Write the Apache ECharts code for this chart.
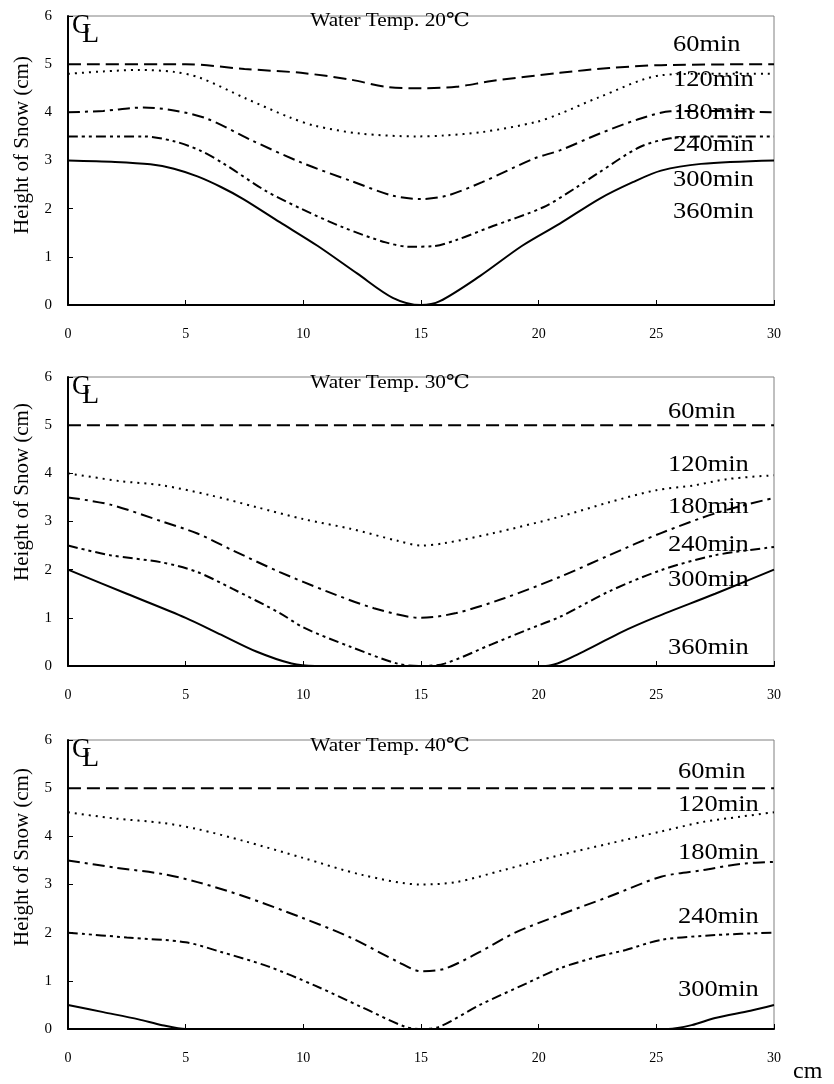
<!DOCTYPE html>
<html>
<head>
<meta charset="utf-8">
<script src="https://cdn.jsdelivr.net/npm/echarts@6/dist/echarts.min.js"></script>
<style>
html,body{margin:0;padding:0;background:#fff;}
#chart{width:834px;height:1084px;}
</style>
</head>
<body>
<div id="chart"></div>
<script>
// ---- Data (x = distance from centre line in cm, y = snow height in cm) ----
var titles = ['Water Temp. 20\u2103', 'Water Temp. 30\u2103', 'Water Temp. 40\u2103'];
var seriesNames = ['60min', '120min', '180min', '240min', '300min', '360min'];
var xTicks = [0, 5, 10, 15, 20, 25, 30];
var yTicks = [0, 1, 2, 3, 4, 5, 6];

// 20 C
var t20_60  = [[0,5.0],[5,5.0],[7.5,4.9],[9.9,4.82],[12,4.68],[13.5,4.53],[15,4.5],[16.5,4.53],[18,4.65],[20.9,4.82],[23,4.92],[25.2,4.98],[30,5.0]];
var t20_120 = [[0,4.8],[1.5,4.85],[3,4.88],[4.5,4.84],[5.6,4.72],[7.5,4.3],[9.4,3.9],[10.5,3.72],[12.4,3.56],[14.8,3.5],[16,3.52],[17.6,3.59],[19.9,3.8],[20.9,3.97],[22.5,4.3],[25.2,4.77],[27,4.8],[30,4.8]];
var t20_180 = [[0,4.0],[1.5,4.03],[3.2,4.1],[4.5,4.04],[5.9,3.87],[7.8,3.42],[9.9,2.96],[12,2.58],[13.8,2.27],[15,2.2],[16.1,2.27],[17.6,2.55],[19.8,3.04],[20.9,3.21],[22.6,3.56],[24.2,3.85],[25.6,4.02],[27,4.03],[30,4.0]];
var t20_240 = [[0,3.5],[3.2,3.5],[4.5,3.4],[5.6,3.21],[6.6,2.94],[8.4,2.37],[9.9,2.0],[11.7,1.61],[13.5,1.3],[14.5,1.21],[15.5,1.22],[16.5,1.35],[17.9,1.61],[20.2,2.03],[21.6,2.44],[22.5,2.73],[24.3,3.28],[25.6,3.46],[27,3.5],[30,3.5]];
var t20_300 = [[0,3.0],[2,2.97],[3.5,2.92],[4.5,2.83],[5.5,2.67],[6.5,2.45],[7.45,2.2],[9,1.72],[10.6,1.23],[12.3,0.65],[13.8,0.15],[15,0.0],[15.8,0.08],[17.5,0.6],[19.3,1.23],[20.9,1.69],[22.6,2.21],[24,2.55],[25.2,2.79],[26.9,2.93],[30,3.0]];

// 30 C
var t30_60  = [[0,5.0],[30,5.0]];
var t30_120 = [[0,4.0],[2.2,3.84],[4,3.75],[6,3.55],[8,3.3],[10,3.05],[12,2.85],[14,2.6],[15,2.5],[16,2.55],[18,2.75],[20.9,3.1],[23,3.4],[25,3.65],[26.6,3.75],[28,3.88],[30,3.96]];
var t30_180 = [[0,3.5],[1.8,3.35],[4,3.0],[5.5,2.75],[7,2.4],[9,1.95],[11,1.55],[13,1.2],[15,1.0],[16.5,1.1],[18.5,1.4],[20.9,1.85],[23,2.3],[25.2,2.76],[27.7,3.2],[30,3.49]];
var t30_240 = [[0,2.5],[1.8,2.3],[4,2.15],[5.5,1.95],[7,1.6],[9,1.1],[10,0.8],[12,0.4],[14,0.05],[15,0.0],[16,0.05],[18,0.45],[19.5,0.75],[20.9,1.02],[23,1.55],[25.2,1.99],[27.5,2.3],[30,2.47]];
var t30_300 = [[0,2.0],[2.5,1.5],[5,1.0],[6.5,0.65],[8,0.3],[9.5,0.05],[10.5,0.0],[20.3,0.0],[21.9,0.3],[23.5,0.7],[25,1.02],[27.5,1.5],[30,2.0]];

// 40 C
var t40_60  = [[0,5.0],[30,5.0]];
var t40_120 = [[0,4.5],[2,4.37],[4,4.28],[5.5,4.15],[7.5,3.9],[10,3.55],[12.5,3.2],[15,3.0],[16.5,3.05],[18.5,3.3],[20.9,3.61],[23,3.85],[25.2,4.1],[27,4.3],[28.6,4.41],[30,4.5]];
var t40_180 = [[0,3.5],[2,3.35],[4,3.22],[5.5,3.05],[7.5,2.75],[10,2.3],[12,1.9],[14,1.4],[15,1.2],[16,1.25],[17.5,1.6],[19,2.0],[20.9,2.37],[23,2.75],[25.2,3.16],[27,3.3],[28.6,3.43],[30,3.47]];
var t40_240 = [[0,2.0],[2.5,1.9],[5,1.8],[6.5,1.6],[8.5,1.3],[10.5,0.9],[12.5,0.45],[14.3,0.05],[15,0.0],[15.8,0.05],[17.5,0.5],[19.5,0.95],[20.9,1.26],[22.5,1.5],[23.7,1.64],[25.2,1.85],[27.5,1.95],[30,2.0]];
var t40_300 = [[0,0.5],[1.5,0.35],[3,0.2],[4,0.08],[5,0.0],[25.5,0.0],[26.5,0.08],[27.5,0.23],[29,0.38],[30,0.5]];

var panels = [
  [t20_60, t20_120, t20_180, t20_240, t20_300],
  [t30_60, t30_120, t30_180, t30_240, t30_300],
  [t40_60, t40_120, t40_180, t40_240, t40_300]
];
// which labels appear in each panel
var panelLabels = [
  ['60min','120min','180min','240min','300min','360min'],
  ['60min','120min','180min','240min','300min','360min'],
  ['60min','120min','180min','240min','300min']
];

// ---- Layout / style ----
var gridLeft = 68, gridWidth = 706;
var gridTops = [16, 377, 740];
var gridHeight = 289;
var dashStyles = [[13,6],[2,5],[12,5,3,5],[10,4,3,4,3,4],'solid'];
var serif = '"Liberation Serif","DejaVu Serif",serif';

// label pixel y positions (centres) per panel
var labelY = [
  [45, 80, 113, 145, 180, 212],
  [412, 465, 507, 545, 580, 648],
  [772, 805, 853, 917, 990]
];
var labelX = [673, 668, 678];
var titleY = [21, 383, 746];
var nameY = [145, 492, 857];

var grids = [], xAxes = [], yAxes = [], series = [], graphics = [];
for (var p = 0; p < 3; p++) {
  grids.push({left: gridLeft, top: gridTops[p], width: gridWidth, height: gridHeight,
    containLabel: false, show: true, borderColor: '#808080', borderWidth: 1, backgroundColor: 'transparent'});
  xAxes.push({type: 'value', gridIndex: p, min: xTicks[0], max: xTicks[xTicks.length-1], interval: 5,
    axisLine: {show: true, onZero: false, lineStyle: {color: '#000', width: 2}},
    axisTick: {show: true, inside: true, length: 5, lineStyle: {color: '#000', width: 1}},
    axisLabel: {show: true, margin: 22, color: '#000', fontFamily: serif, fontSize: 14},
    splitLine: {show: false}});
  yAxes.push({type: 'value', gridIndex: p, min: yTicks[0], max: yTicks[yTicks.length-1], interval: 1,
    axisLine: {show: true, lineStyle: {color: '#000', width: 2}},
    axisTick: {show: true, inside: true, length: 5, lineStyle: {color: '#000', width: 1}},
    axisLabel: {show: true, margin: 16, color: '#000', fontFamily: serif, fontSize: 15},
    splitLine: {show: false}});
  var ds = panels[p];
  for (var s = 0; s < ds.length; s++) {
    series.push({type: 'line', name: seriesNames[s], xAxisIndex: p, yAxisIndex: p, data: ds[s],
      showSymbol: false, smooth: 0.3, clip: true, z: 3,
      lineStyle: {color: '#000', width: 2, type: dashStyles[s]}});
  }
  // title
  graphics.push({type: 'text', x: 390, y: titleY[p], z: 10, scaleX: 1.12,
    style: {text: titles[p], font: '19px ' + serif, fill: '#000', align: 'center', verticalAlign: 'middle', textAlign: 'center', textVerticalAlign: 'middle'}});
  // CL symbol
  graphics.push({type: 'text', x: 72, y: gridTops[p] - 4, z: 10,
    style: {text: 'C', font: '27px ' + serif, fill: '#000', align: 'left', verticalAlign: 'top', textAlign: 'left', textVerticalAlign: 'top'}});
  graphics.push({type: 'text', x: 82, y: gridTops[p] + 5, z: 10,
    style: {text: 'L', font: '28px ' + serif, fill: '#000', align: 'left', verticalAlign: 'top', textAlign: 'left', textVerticalAlign: 'top'}});
  // y-axis name
  graphics.push({type: 'text', x: 22, y: nameY[p], rotation: Math.PI / 2, z: 10,
    style: {text: 'Height of Snow (cm)', font: '21px ' + serif, fill: '#000', align: 'center', verticalAlign: 'middle', textAlign: 'center', textVerticalAlign: 'middle'}});
  // curve labels
  for (var k = 0; k < panelLabels[p].length; k++) {
    graphics.push({type: 'text', x: labelX[p], y: labelY[p][k], z: 10, scaleX: 1.15,
      style: {text: panelLabels[p][k], font: '23px ' + serif, fill: '#000', align: 'left', verticalAlign: 'middle', textAlign: 'left', textVerticalAlign: 'middle'}});
  }
}
graphics.push({type: 'text', x: 793, y: 1072, z: 10,
  style: {text: 'cm', font: '24px ' + serif, fill: '#000', align: 'left', verticalAlign: 'middle', textAlign: 'left', textVerticalAlign: 'middle'}});

var chart = echarts.init(document.getElementById('chart'), null, {renderer: 'canvas'});
chart.setOption({
  animation: false,
  backgroundColor: '#fff',
  grid: grids,
  xAxis: xAxes,
  yAxis: yAxes,
  series: series,
  graphic: graphics
});
</script>
</body>
</html>
